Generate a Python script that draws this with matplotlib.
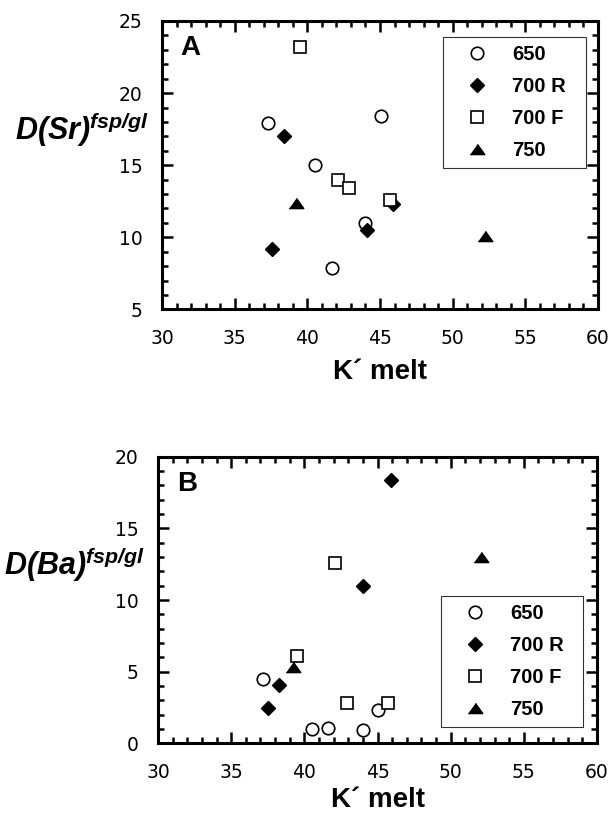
import matplotlib.pyplot as plt
from matplotlib.ticker import MultipleLocator

plt.rcParams['font.family'] = ['Liberation Sans', 'DejaVu Sans']
plt.rcParams['mathtext.fontset'] = 'custom'
plt.rcParams['mathtext.it'] = 'Liberation Sans:italic:bold'
plt.rcParams['mathtext.rm'] = 'Liberation Sans:italic:bold'

labels = ['650', '700 R', '700 F', '750']

# panel A: K' melt vs D(Sr)
ka650 = [37.3, 45.1, 40.5, 44.0, 41.7]
sr650 = [17.9, 18.4, 15.0, 11.0, 7.9]
ka700r = [38.4, 37.6, 44.1, 45.9]
sr700r = [17.0, 9.2, 10.5, 12.3]
ka700f = [39.5, 42.1, 42.9, 45.7]
sr700f = [23.2, 14.0, 13.4, 12.6]
ka750 = [39.2, 52.2]
sr750 = [12.4, 10.1]

# panel B: K' melt vs D(Ba)
kb650 = [37.2, 40.5, 41.6, 44.0, 45.0]
ba650 = [4.5, 1.0, 1.05, 0.9, 2.3]
kb700r = [45.9, 44.0, 38.3, 37.5]
ba700r = [18.4, 11.0, 4.1, 2.5]
kb700f = [42.1, 39.5, 42.9, 45.7]
ba700f = [12.6, 6.1, 2.85, 2.8]
kb750 = [52.1, 39.2]
ba750 = [13.0, 5.35]

fig = plt.figure(figsize=(6.11, 8.17), dpi=100)
axA = fig.add_axes([0.2651, 0.6213, 0.7136, 0.3530])
axB = fig.add_axes([0.2586, 0.0901, 0.7185, 0.3509])

flat_tri = [(-1, -0.7), (1, -0.7), (0, 0.7)]


def draw(ax, xs, ys, ylim, letter, ylabel, leg_box, leg_loc, xpad):
    styles = [dict(marker='o', mfc='white', mec='black', ms=9, mew=1.2),
              dict(marker='D', mfc='black', mec='black', ms=7),
              dict(marker='s', mfc='white', mec='black', ms=9, mew=1.2),
              dict(marker=flat_tri, mfc='black', mec='black', ms=10.5)]
    for x, y, st, lab in zip(xs, ys, styles, labels):
        ax.plot(x, y, ls='none', label=lab, **st)
    ax.set_xlim(30, 60)
    ax.set_ylim(*ylim)
    ax.xaxis.set_major_locator(MultipleLocator(5))
    ax.xaxis.set_minor_locator(MultipleLocator(1))
    ax.yaxis.set_major_locator(MultipleLocator(5))
    ax.yaxis.set_minor_locator(MultipleLocator(1))
    ax.tick_params(which='both', direction='in', top=True, right=True, width=1.8)
    ax.tick_params(which='major', length=8, labelsize=13.5, pad=14,
                   labelfontfamily='DejaVu Sans')
    ax.tick_params(which='minor', length=4)
    for s in ax.spines.values():
        s.set_linewidth(2.2)
    ax.set_xlabel('K\u00b4 melt', fontsize=20, fontweight='bold', labelpad=xpad)
    ax.text(0.043, 0.95, letter, transform=ax.transAxes, fontsize=20,
            fontweight='bold', va='top')
    ax.text(-0.03, 0.587, ylabel, transform=ax.transAxes, fontsize=22,
            ha='right', va='baseline')
    leg = ax.legend(loc=leg_loc, bbox_to_anchor=leg_box, mode='expand',
                    borderaxespad=0, frameon=True, fancybox=False,
                    edgecolor='black', handletextpad=0.45, labelspacing=0.65,
                    borderpad=0.4, handlelength=2.6,
                    prop={'weight': 'bold', 'size': 14.5})
    leg.get_frame().set_linewidth(0.8)


draw(axA, [ka650, ka700r, ka700f, ka750], [sr650, sr700r, sr700f, sr750],
     (5, 25), 'A', r'$D(Sr)^{fsp/gl}$', (0.6445, 0.4938, 0.328, 0.4507), 'upper left', 8)
draw(axB, [kb650, kb700r, kb700f, kb750], [ba650, ba700r, ba700f, ba750],
     (0, 20), 'B', r'$D(Ba)^{fsp/gl}$', (0.6446, 0.057, 0.3235, 0.457), 'lower left', 4)

fig.savefig('out.png', dpi=100)
